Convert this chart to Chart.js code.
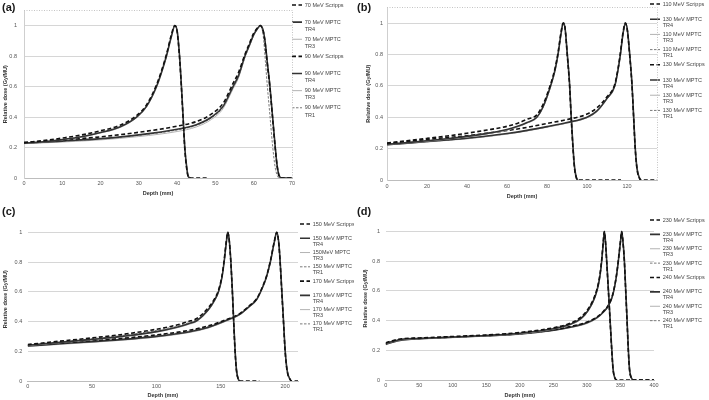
<!DOCTYPE html>
<html lang="en">
<head>
<meta charset="UTF-8">
<title>Depth dose curves - Scripps vs MPTC</title>
<style>
  body { margin: 0; background: #fff; }
  .panel { position: absolute; width: 354px; height: 200px; }
  .panel canvas { display: block; }
  .tag { position: absolute; left: 2px; top: 1px; font: bold 11px "Liberation Sans", Arial, sans-serif; color: #1a1a1a; }
</style>
</head>
<body>

<div class="panel" style="left:0;top:0"><canvas id="chartA" width="354" height="200"></canvas><div class="tag">(a)</div></div>
<div class="panel" style="left:355px;top:0"><canvas id="chartB" width="354" height="200"></canvas><div class="tag">(b)</div></div>
<div class="panel" style="left:0;top:200px"><canvas id="chartC" width="354" height="200"></canvas><div class="tag" style="top:5px">(c)</div></div>
<div class="panel" style="left:355px;top:200px"><canvas id="chartD" width="354" height="200"></canvas><div class="tag" style="top:5px">(d)</div></div>

<script src="https://cdn.jsdelivr.net/npm/chart.js@4/dist/chart.umd.min.js"></script>
<script>
// ---- panel (a): 70 and 90 MeV ----
var a70Depth   = [0, 5, 10, 15, 20, 25, 29.4, 32, 34.6, 36, 37.2, 38.5, 39.4, 40, 40.6, 41.1, 41.6, 42, 42.5, 42.9, 43.5, 48];
var a70Scripps = [0.232, 0.245, 0.262, 0.282, 0.31, 0.345, 0.41, 0.48, 0.61, 0.71, 0.81, 0.94, 1.0, 0.96, 0.80, 0.60, 0.37, 0.19, 0.06, 0.01, 0, 0];
var a70Tr4     = [0.228, 0.238, 0.252, 0.27, 0.298, 0.335, 0.40, 0.47, 0.60, 0.70, 0.80, 0.93, 1.0, 0.965, 0.81, 0.61, 0.38, 0.20, 0.07, 0.01, 0, null];
var a70Tr3     = [0.226, 0.236, 0.25, 0.268, 0.295, 0.33, 0.395, 0.465, 0.59, 0.69, 0.79, 0.92, 0.99, 0.97, 0.82, 0.62, 0.39, 0.21, 0.07, 0.01, 0, null];

var a90Depth   = [0, 10, 20, 30, 40, 45, 49, 52, 54.6, 56, 57.7, 59, 60, 61, 61.7, 62.5, 63, 63.5, 64.2, 64.9, 65.6, 66.1, 66.6, 67.2, 70];
var a90Scripps = [0.232, 0.25, 0.27, 0.30, 0.34, 0.37, 0.42, 0.49, 0.62, 0.69, 0.81, 0.89, 0.95, 0.985, 1.0, 0.96, 0.88, 0.76, 0.60, 0.40, 0.20, 0.08, 0.015, 0, 0];
var a90Tr4     = [0.228, 0.242, 0.258, 0.283, 0.32, 0.35, 0.40, 0.47, 0.60, 0.67, 0.80, 0.88, 0.94, 0.98, 1.0, 0.965, 0.89, 0.77, 0.61, 0.41, 0.21, 0.085, 0.02, 0, 0];
var a90Tr3     = [0.225, 0.236, 0.25, 0.272, 0.305, 0.335, 0.385, 0.455, 0.585, 0.655, 0.79, 0.87, 0.935, 0.975, 0.995, 0.97, 0.90, 0.78, 0.62, 0.42, 0.22, 0.09, 0.02, 0, 0];
var a90Tr1     = [0.226, 0.24, 0.256, 0.28, 0.315, 0.345, 0.395, 0.465, 0.59, 0.66, 0.79, 0.875, 0.935, 0.98, 1.0, 0.93, 0.78, 0.62, 0.42, 0.22, 0.07, 0.02, 0, 0, 0];

var aLabels = [['70 MeV Scripps', ''], ['70 MeV MPTC', 'TR4'], ['70 MeV MPTC', 'TR3'],
               ['90 MeV Scripps', ''], ['90 MeV MPTC', 'TR4'], ['90 MeV MPTC', 'TR3'], ['90 MeV MPTC', 'TR1']];

// ---- panel (b): 110 and 130 MeV ----
var b110Depth   = [0, 10, 20, 30, 40, 50, 60, 66, 70, 74.9, 78, 81.8, 84, 85.5, 87, 88.1, 89, 90.1, 91.3, 92, 93, 93.8, 94.8, 95.5, 117];
var b110Scripps = [0.235, 0.25, 0.265, 0.28, 0.298, 0.318, 0.342, 0.365, 0.387, 0.415, 0.48, 0.61, 0.71, 0.81, 0.94, 1.0, 0.97, 0.80, 0.60, 0.42, 0.20, 0.07, 0.01, 0, 0];
var b110Tr4     = [0.228, 0.238, 0.25, 0.263, 0.278, 0.297, 0.322, 0.345, 0.366, 0.40, 0.465, 0.60, 0.70, 0.80, 0.93, 1.0, 0.97, 0.81, 0.61, 0.43, 0.21, 0.08, 0.01, 0, null];
var b110Tr3     = [0.226, 0.236, 0.247, 0.26, 0.275, 0.293, 0.318, 0.34, 0.362, 0.395, 0.46, 0.59, 0.69, 0.79, 0.92, 0.99, 0.975, 0.82, 0.62, 0.44, 0.22, 0.08, 0.015, 0, null];
var b110Tr1     = [0.227, 0.237, 0.249, 0.262, 0.277, 0.295, 0.32, 0.343, 0.364, 0.398, 0.462, 0.595, 0.695, 0.795, 0.925, 1.0, 0.97, 0.80, 0.60, 0.42, 0.20, 0.07, 0.01, 0, null];

var b130Depth   = [0, 10, 20, 30, 40, 50, 60, 70, 80, 90, 100, 105, 110, 113.9, 115.5, 116.7, 118, 119.2, 120.2, 121.3, 122.5, 123.3, 124.1, 125, 126.3, 127, 135];
var b130Scripps = [0.232, 0.245, 0.258, 0.27, 0.282, 0.298, 0.315, 0.335, 0.36, 0.385, 0.42, 0.46, 0.53, 0.61, 0.71, 0.81, 0.94, 1.0, 0.95, 0.80, 0.60, 0.40, 0.20, 0.07, 0.01, 0, 0];
var b130Tr4     = [0.225, 0.235, 0.245, 0.255, 0.266, 0.28, 0.296, 0.316, 0.34, 0.366, 0.40, 0.44, 0.52, 0.60, 0.70, 0.80, 0.93, 1.0, 0.955, 0.81, 0.61, 0.41, 0.21, 0.075, 0.01, 0, null];
var b130Tr3     = [0.223, 0.232, 0.242, 0.252, 0.262, 0.276, 0.292, 0.312, 0.336, 0.362, 0.396, 0.435, 0.515, 0.595, 0.695, 0.795, 0.925, 0.995, 0.96, 0.82, 0.62, 0.42, 0.22, 0.08, 0.015, 0, null];
var b130Tr1     = [0.224, 0.234, 0.244, 0.254, 0.264, 0.278, 0.294, 0.314, 0.338, 0.364, 0.398, 0.438, 0.518, 0.598, 0.698, 0.798, 0.928, 1.0, 0.95, 0.80, 0.60, 0.40, 0.20, 0.07, 0.01, 0, null];

var bLabels = [['110 MeV Scripps', ''], ['130 MeV MPTC', 'TR4'], ['110 MeV MPTC', 'TR3'], ['110 MeV MPTC', 'TR1'],
               ['130 MeV Scripps', ''], ['130 MeV MPTC', 'TR4'], ['130 MeV MPTC', 'TR3'], ['130 MeV MPTC', 'TR1']];

// ---- panel (c): 150 and 170 MeV ----
var c150Depth   = [0, 25, 50, 75, 100, 115, 125, 131.3, 140, 145, 148.2, 151, 152.6, 154.3, 155.4, 156.5, 157.8, 159, 160, 161.1, 162.2, 163.7, 165, 180];
var c150Scripps = [0.245, 0.268, 0.29, 0.315, 0.348, 0.375, 0.40, 0.42, 0.49, 0.55, 0.61, 0.71, 0.81, 0.94, 1.0, 0.95, 0.80, 0.60, 0.40, 0.20, 0.07, 0.01, 0, 0];
var c150Tr4     = [0.24, 0.26, 0.28, 0.302, 0.332, 0.36, 0.385, 0.405, 0.475, 0.54, 0.60, 0.70, 0.80, 0.93, 1.0, 0.955, 0.81, 0.61, 0.41, 0.21, 0.075, 0.01, 0, null];
var c150Tr3     = [0.238, 0.257, 0.276, 0.298, 0.328, 0.355, 0.38, 0.40, 0.47, 0.535, 0.595, 0.695, 0.795, 0.925, 0.995, 0.96, 0.82, 0.62, 0.42, 0.22, 0.08, 0.015, 0, null];
var c150Tr1     = [0.242, 0.263, 0.284, 0.308, 0.34, 0.368, 0.392, 0.412, 0.482, 0.545, 0.605, 0.705, 0.805, 0.935, 1.0, 0.95, 0.80, 0.60, 0.40, 0.20, 0.07, 0.01, 0, null];

var c170Depth   = [0, 25, 50, 75, 100, 125, 140, 155, 165, 172, 178, 182, 185.5, 188.5, 191.5, 193.5, 195, 196.1, 197.4, 198.7, 200, 201.5, 203.9, 205, 210];
var c170Scripps = [0.24, 0.255, 0.272, 0.288, 0.31, 0.34, 0.37, 0.415, 0.455, 0.505, 0.555, 0.625, 0.705, 0.805, 0.935, 1.0, 0.93, 0.80, 0.60, 0.40, 0.20, 0.07, 0.01, 0, 0];
var c170Tr4     = [0.235, 0.25, 0.265, 0.28, 0.30, 0.33, 0.36, 0.41, 0.45, 0.50, 0.55, 0.62, 0.70, 0.80, 0.93, 1.0, 0.935, 0.81, 0.61, 0.41, 0.21, 0.075, 0.01, 0, null];
var c170Tr3     = [0.232, 0.246, 0.26, 0.275, 0.295, 0.325, 0.355, 0.405, 0.445, 0.495, 0.545, 0.615, 0.695, 0.795, 0.925, 0.995, 0.94, 0.82, 0.62, 0.42, 0.22, 0.08, 0.015, 0, null];
var c170Tr1     = [0.237, 0.252, 0.268, 0.284, 0.305, 0.335, 0.365, 0.412, 0.452, 0.502, 0.552, 0.622, 0.702, 0.802, 0.932, 1.0, 0.93, 0.80, 0.60, 0.40, 0.20, 0.07, 0.01, 0, null];

var cLabels = [['150 MeV Scripps', ''], ['150 MeV MPTC', 'TR4'], ['150MeV MPTC', 'TR3'], ['150 MeV MPTC', 'TR1'],
               ['170 MeV Scripps', ''], ['170 MeV MPTC', 'TR4'], ['170 MeV MPTC', 'TR3'], ['170 MeV MPTC', 'TR1']];

// ---- panel (d): 230 and 240 MeV ----
var d230Depth   = [0, 10, 25, 50, 100, 150, 200, 250, 275, 290, 302, 312, 317, 320, 322, 324.5, 326, 327.5, 329.4, 332, 334.5, 337, 339, 342, 345, 400];
var d230Scripps = [0.25, 0.265, 0.278, 0.283, 0.293, 0.303, 0.32, 0.352, 0.382, 0.42, 0.48, 0.57, 0.65, 0.73, 0.81, 0.94, 1.0, 0.94, 0.80, 0.60, 0.40, 0.20, 0.07, 0.01, 0, 0];
var d230Tr4     = [0.245, 0.26, 0.275, 0.28, 0.29, 0.30, 0.315, 0.345, 0.375, 0.41, 0.47, 0.56, 0.64, 0.72, 0.80, 0.93, 1.0, 0.945, 0.81, 0.61, 0.41, 0.21, 0.075, 0.01, 0, null];
var d230Tr3     = [0.243, 0.257, 0.272, 0.278, 0.288, 0.298, 0.312, 0.342, 0.372, 0.405, 0.465, 0.555, 0.635, 0.715, 0.795, 0.925, 0.995, 0.95, 0.82, 0.62, 0.42, 0.22, 0.08, 0.015, 0, null];
var d230Tr1     = [0.247, 0.262, 0.276, 0.281, 0.291, 0.301, 0.318, 0.349, 0.379, 0.415, 0.475, 0.565, 0.645, 0.725, 0.805, 0.935, 1.0, 0.94, 0.80, 0.60, 0.40, 0.20, 0.07, 0.01, 0, null];

var d240Depth   = [0, 10, 25, 50, 100, 150, 200, 250, 275, 300, 315, 325, 332, 337, 340, 344, 346.8, 350, 351.8, 353.5, 355.8, 357.8, 359.8, 361.7, 363.5, 366.7, 369, 400];
var d240Scripps = [0.245, 0.26, 0.273, 0.28, 0.29, 0.30, 0.313, 0.338, 0.36, 0.39, 0.425, 0.465, 0.505, 0.555, 0.605, 0.705, 0.805, 0.935, 1.0, 0.94, 0.80, 0.60, 0.40, 0.20, 0.07, 0.01, 0, 0];
var d240Tr4     = [0.24, 0.255, 0.27, 0.278, 0.288, 0.298, 0.31, 0.335, 0.355, 0.385, 0.42, 0.46, 0.50, 0.55, 0.60, 0.70, 0.80, 0.93, 1.0, 0.945, 0.81, 0.61, 0.41, 0.21, 0.075, 0.01, 0, null];
var d240Tr3     = [0.238, 0.252, 0.267, 0.275, 0.285, 0.295, 0.307, 0.332, 0.352, 0.38, 0.415, 0.455, 0.495, 0.545, 0.595, 0.695, 0.795, 0.925, 0.995, 0.95, 0.82, 0.62, 0.42, 0.22, 0.08, 0.015, 0, null];
var d240Tr1     = [0.242, 0.257, 0.271, 0.279, 0.289, 0.299, 0.312, 0.337, 0.358, 0.388, 0.423, 0.463, 0.503, 0.553, 0.603, 0.703, 0.803, 0.933, 1.0, 0.94, 0.80, 0.60, 0.40, 0.20, 0.07, 0.01, 0, null];

var dLabels = [['230 MeV Scripps', ''], ['230 MeV MPTC', 'TR4'], ['230 MeV MPTC', 'TR3'], ['230 MeV MPTC', 'TR1'],
               ['240 MeV Scripps', ''], ['240 MeV MPTC', 'TR4'], ['240 MeV MPTC', 'TR3'], ['240 MeV MPTC', 'TR1']];

var yTickStep = 0.2;
var FONT = '"Liberation Sans", Arial, sans-serif';

// line look per measurement type
var styles = {
    scripps: { borderColor: '#111111', borderWidth: 1.6, borderDash: [4, 2.5] },
    tr4:     { borderColor: '#333333', borderWidth: 1.6, borderDash: [] },
    tr3:     { borderColor: '#b3b3b3', borderWidth: 1,   borderDash: [] },
    tr1:     { borderColor: '#7a7a7a', borderWidth: 1,   borderDash: [2.5, 1.5] }
};

// puts the legend where the original had it and fixes its width
var legendPlace = {
    id: 'legendPlace',
    afterInit: function (chart, args, o) {
        var lg = chart.legend, fit = lg.fit;
        lg.fit = function () { fit.call(this); this.width = o.width; };
    },
    afterLayout: function (chart, args, o) {
        chart.legend.left = o.x;
        chart.legend.top = o.y;
        chart.legend.bottom = o.y + 200;
    }
};

// dotted frame on top / right of plot area (a, b only)
var dottedFrame = {
    id: 'dottedFrame',
    beforeDatasetsDraw: function (chart, args, o) {
        if (!o.show) return;
        var ctx = chart.ctx, c = chart.chartArea;
        ctx.save();
        ctx.strokeStyle = '#c4c4c4';
        ctx.lineWidth = 1;
        ctx.setLineDash([1, 1.5]);
        ctx.beginPath();
        ctx.moveTo(c.left, Math.round(c.top) + 0.5);
        ctx.lineTo(Math.round(c.right) + 0.5, Math.round(c.top) + 0.5);
        ctx.lineTo(Math.round(c.right) + 0.5, c.bottom);
        ctx.stroke();
        ctx.restore();
    }
};

function keepSteps(step) {
    return function (axis) {
        axis.ticks = axis.ticks.filter(function (t) {
            return Math.abs(t.value / step - Math.round(t.value / step)) < 1e-6;
        });
    };
}

function makePanel(id, cfg) {
    var datasets = cfg.series.map(function (s, i) {
        var lines = cfg.labels[i];
        return Object.assign({
            label: lines.join(' ').trim(),
            legendText: lines,
            data: s.depth.map(function (d, k) { return { x: d, y: s.dose[k] }; }),
            pointRadius: 0,
            fill: false,
            cubicInterpolationMode: 'monotone'
        }, styles[s.kind]);
    });

    return new Chart(document.getElementById(id), {
        type: 'line',
        data: { datasets: datasets },
        plugins: [legendPlace, dottedFrame],
        options: {
            responsive: false,
            animation: false,
            devicePixelRatio: 1,
            layout: { padding: { top: cfg.top, left: 0, right: 0, bottom: 0 } },
            plugins: {
                tooltip: { enabled: false },
                dottedFrame: { show: cfg.frame },
                legendPlace: { x: cfg.legendX, y: cfg.legendY, width: 354 - cfg.right },
                legend: {
                    position: 'right',
                    align: 'start',
                    labels: {
                        usePointStyle: true,
                        pointStyle: 'line',
                        pointStyleWidth: 10,
                        boxWidth: 10,
                        padding: 2.5,
                        color: '#444',
                        font: { family: FONT, size: 5.5, lineHeight: cfg.legendLH },
                        generateLabels: function (chart) {
                            return chart.data.datasets.map(function (ds, i) {
                                return {
                                    text: ds.legendText,
                                    strokeStyle: ds.borderColor,
                                    fillStyle: ds.borderColor,
                                    lineWidth: ds.borderWidth,
                                    lineDash: ds.borderDash,
                                    fontColor: '#444',
                                    pointStyle: 'line',
                                    hidden: false,
                                    datasetIndex: i
                                };
                            });
                        }
                    }
                }
            },
            scales: {
                x: {
                    type: 'linear',
                    min: 0,
                    max: cfg.xMax,
                    afterFit: function (s) { s.height = cfg.xHeight; },
                    afterBuildTicks: keepSteps(cfg.xStep),
                    grid: { display: false, drawTicks: false },
                    border: { display: true, color: '#bdbdbd' },
                    ticks: {
                        stepSize: cfg.xStep, includeBounds: false, maxRotation: 0, autoSkip: false,
                        padding: cfg.xTickPad, color: '#555', font: { family: FONT, size: 5.5 }
                    },
                    title: {
                        display: true, text: 'Depth (mm)', color: '#333',
                        font: { family: FONT, size: 5.5, weight: 'bold', lineHeight: 1.2 },
                        padding: { top: 0, bottom: cfg.xTitlePad }
                    }
                },
                y: {
                    min: 0,
                    max: 1.1,
                    afterFit: function (s) { s.width = cfg.yWidth; },
                    afterBuildTicks: keepSteps(yTickStep),
                    grid: { color: '#d6d6d6', drawTicks: false },
                    border: { display: cfg.yBorder, color: '#cfcfcf' },
                    ticks: {
                        stepSize: yTickStep, includeBounds: false, padding: cfg.yTickPad,
                        color: '#555', font: { family: FONT, size: 5.5 },
                        callback: function (v) { return String(Number(v.toFixed(1))); }
                    },
                    title: {
                        display: true, text: 'Relative dose (Gy/MU)', color: '#333',
                        font: { family: FONT, size: 5.5, weight: 'bold', lineHeight: 1.2 },
                        padding: { top: cfg.yTitlePad, bottom: 0 }
                    }
                }
            }
        }
    });
}

makePanel('chartA', {
    labels: aLabels,
    series: [
        { kind: 'scripps', depth: a70Depth, dose: a70Scripps },
        { kind: 'tr4', depth: a70Depth, dose: a70Tr4 },
        { kind: 'tr3', depth: a70Depth, dose: a70Tr3 },
        { kind: 'scripps', depth: a90Depth, dose: a90Scripps },
        { kind: 'tr4', depth: a90Depth, dose: a90Tr4 },
        { kind: 'tr3', depth: a90Depth, dose: a90Tr3 },
        { kind: 'tr1', depth: a90Depth, dose: a90Tr1 }
    ],
    top: 6.4, right: 292, yWidth: 24, xHeight: 22, xMax: 70, xStep: 10,
    yTickPad: 7, xTickPad: 1.7, yTitlePad: 1.7, xTitlePad: 3.7,
    yBorder: true, frame: true, legendX: 289.5, legendY: -0.25, legendLH: 1.33
});

makePanel('chartB', {
    labels: bLabels,
    series: [
        { kind: 'scripps', depth: b110Depth, dose: b110Scripps },
        { kind: 'tr4', depth: b110Depth, dose: b110Tr4 },
        { kind: 'tr3', depth: b110Depth, dose: b110Tr3 },
        { kind: 'tr1', depth: b110Depth, dose: b110Tr1 },
        { kind: 'scripps', depth: b130Depth, dose: b130Scripps },
        { kind: 'tr4', depth: b130Depth, dose: b130Tr4 },
        { kind: 'tr3', depth: b130Depth, dose: b130Tr3 },
        { kind: 'tr1', depth: b130Depth, dose: b130Tr1 }
    ],
    top: 5.9, right: 302, yWidth: 32, xHeight: 20, xMax: 135, xStep: 20,
    yTickPad: 4, xTickPad: 3.4, yTitlePad: 10.2, xTitlePad: 0,
    yBorder: true, frame: true, legendX: 292.5, legendY: -1.25, legendLH: 1.155
});

makePanel('chartC', {
    labels: cLabels,
    series: [
        { kind: 'scripps', depth: c150Depth, dose: c150Scripps },
        { kind: 'tr4', depth: c150Depth, dose: c150Tr4 },
        { kind: 'tr3', depth: c150Depth, dose: c150Tr3 },
        { kind: 'tr1', depth: c150Depth, dose: c150Tr1 },
        { kind: 'scripps', depth: c170Depth, dose: c170Scripps },
        { kind: 'tr4', depth: c170Depth, dose: c170Tr4 },
        { kind: 'tr3', depth: c170Depth, dose: c170Tr3 },
        { kind: 'tr1', depth: c170Depth, dose: c170Tr1 }
    ],
    top: 17.4, right: 298, yWidth: 27.7, xHeight: 19, xMax: 210, xStep: 50,
    yTickPad: 5.5, xTickPad: 2.4, yTitlePad: 1.7, xTitlePad: 1.7,
    yBorder: false, frame: false, legendX: 297.5, legendY: 18.75, legendLH: 1.07
});

makePanel('chartD', {
    labels: dLabels,
    series: [
        { kind: 'scripps', depth: d230Depth, dose: d230Scripps },
        { kind: 'tr4', depth: d230Depth, dose: d230Tr4 },
        { kind: 'tr3', depth: d230Depth, dose: d230Tr3 },
        { kind: 'tr1', depth: d230Depth, dose: d230Tr1 },
        { kind: 'scripps', depth: d240Depth, dose: d240Scripps },
        { kind: 'tr4', depth: d240Depth, dose: d240Tr4 },
        { kind: 'tr3', depth: d240Depth, dose: d240Tr3 },
        { kind: 'tr1', depth: d240Depth, dose: d240Tr1 }
    ],
    top: 16.7, right: 299, yWidth: 30.7, xHeight: 20, xMax: 400, xStep: 50,
    yTickPad: 5.7, xTickPad: 2.4, yTitlePad: 6.7, xTitlePad: 1.7,
    yBorder: false, frame: false, legendX: 292.5, legendY: 14.75, legendLH: 1.08
});
</script>

</body>
</html>
